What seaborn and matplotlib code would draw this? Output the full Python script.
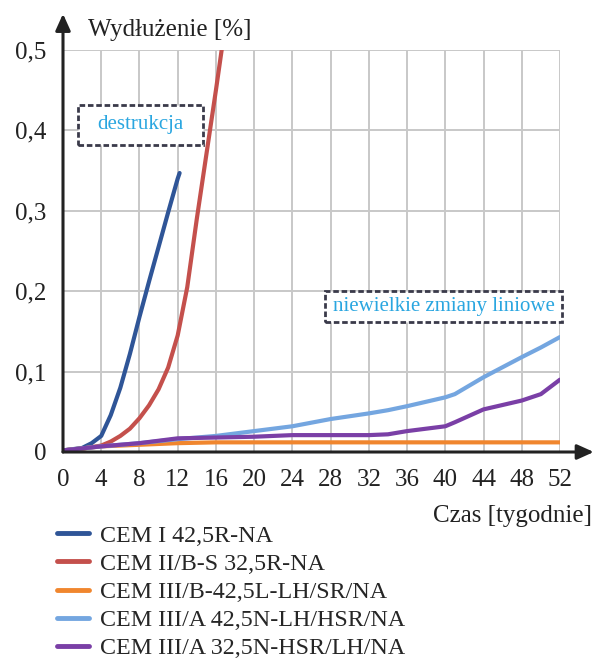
import matplotlib
matplotlib.use("Agg")
import matplotlib.pyplot as plt
import seaborn as sns
import pandas as pd
from matplotlib.lines import Line2D
from matplotlib.patches import Rectangle

# ---- data ----
labels = ["CEM I 42,5R-NA", "CEM II/B-S 32,5R-NA", "CEM III/B-42,5L-LH/SR/NA",
          "CEM III/A 42,5N-LH/HSR/NA", "CEM III/A 32,5N-HSR/LH/NA"]
colors = ["#2f5597", "#c4504c", "#f0862e", "#74a6e0", "#7a3fa6"]

weeks_cem1 = [0, 2, 3, 4, 5, 6, 7, 8, 9, 10, 11, 12, 12.2]
vals_cem1 = [0.002, 0.005, 0.011, 0.02, 0.046, 0.08, 0.122, 0.168, 0.212, 0.255, 0.298, 0.34, 0.347]

weeks_cem2 = [0, 2, 4, 5, 6, 7, 8, 9, 10, 11, 12, 13, 14, 15, 16, 16.6]
vals_cem2 = [0.002, 0.004, 0.008, 0.013, 0.02, 0.029, 0.042, 0.058, 0.078, 0.105, 0.145, 0.205, 0.29, 0.37, 0.45, 0.5]

weeks_long = [0, 4, 8, 12, 16, 20, 24, 28, 32, 34, 36, 40, 41, 44, 48, 50, 52]
vals_cem3b = [0.002, 0.007, 0.009, 0.011, 0.012, 0.012, 0.012, 0.012, 0.012, 0.012, 0.012, 0.012, 0.012, 0.012, 0.012, 0.012, 0.012]
vals_cem3a42 = [0.002, 0.007, 0.011, 0.016, 0.02, 0.026, 0.032, 0.041, 0.048, 0.052, 0.057, 0.068, 0.072, 0.093, 0.118, 0.13, 0.143]
vals_cem3a32 = [0.002, 0.007, 0.011, 0.017, 0.018, 0.019, 0.021, 0.021, 0.021, 0.022, 0.026, 0.032, 0.037, 0.053, 0.064, 0.072, 0.09]

x_ticks = list(range(0, 53, 4))
y_ticks = [0, 0.1, 0.2, 0.3, 0.4, 0.5]
y_ticklabels = ["0", "0,1", "0,2", "0,3", "0,4", "0,5"]

frames = [
    pd.DataFrame({"t": weeks_cem1, "v": vals_cem1, "s": labels[0]}),
    pd.DataFrame({"t": weeks_cem2, "v": vals_cem2, "s": labels[1]}),
    pd.DataFrame({"t": weeks_long, "v": vals_cem3b, "s": labels[2]}),
    pd.DataFrame({"t": weeks_long, "v": vals_cem3a42, "s": labels[3]}),
    pd.DataFrame({"t": weeks_long, "v": vals_cem3a32, "s": labels[4]}),
]
df = pd.concat(frames, ignore_index=True)

sns.set_style("white")
plt.rcParams["font.family"] = ["Liberation Serif", "DejaVu Serif"]

W, H = 594, 658
fig = plt.figure(figsize=(W / 100, H / 100), dpi=100)
x0, x1, y0, y1 = 63, 560, 452, 50
ax = fig.add_axes([x0 / W, 1 - y0 / H, (x1 - x0) / W, (y0 - y1) / H])

sns.lineplot(data=df, x="t", y="v", hue="s", hue_order=labels, palette=colors,
             linewidth=3.0, ax=ax, legend=False, sort=False, zorder=3)

ax.set_xlim(0, 52)
ax.set_ylim(0, 0.5)
ax.set_xticks(x_ticks)
ax.set_xticklabels([str(t) for t in x_ticks])
ax.set_yticks(y_ticks)
ax.set_yticklabels(y_ticklabels)
ax.tick_params(axis="both", length=0, labelsize=18, colors="#222222")
ax.tick_params(axis="x", pad=12)
ax.tick_params(axis="y", pad=12)
ax.grid(True, color="#c8c8c8", linewidth=1.4)
for s in ax.spines.values():
    s.set_visible(False)
ax.set_xlabel("")
ax.set_ylabel("")

# axis arrows
ax.annotate("", xy=(1.068, 0), xytext=(0, 0), xycoords="axes fraction",
            arrowprops=dict(arrowstyle="-|>,head_length=1.0,head_width=0.45",
                            color="#222222", lw=2.2, shrinkA=0, shrinkB=0),
            annotation_clip=False, zorder=5)
ax.annotate("", xy=(0, 1.09), xytext=(0, 0), xycoords="axes fraction",
            arrowprops=dict(arrowstyle="-|>,head_length=1.0,head_width=0.45",
                            color="#222222", lw=2.2, shrinkA=0, shrinkB=0),
            annotation_clip=False, zorder=5)

fig.text(88 / W, 1 - 30 / H, "Wydłużenie [%]", fontsize=18, color="#222222",
         ha="left", va="center")
fig.text(592 / W, 1 - 516 / H, "Czas [tygodnie]", fontsize=18, color="#222222",
         ha="right", va="center")


def note_box(l, t, r, b, text):
    rect = Rectangle((l / W, 1 - b / H), (r - l) / W, (b - t) / H, transform=fig.transFigure,
                     fc="white", ec="#3a3a4a", lw=2.0, ls=(0, (2, 1)), zorder=6)
    fig.add_artist(rect)
    fig.text((l + r) / 2 / W, 1 - (t + b) / 2 / H, text, fontsize=15, color="#2aa6e0",
             ha="center", va="center", zorder=7)


note_box(78, 105, 203, 145, "destrukcja")
note_box(325, 291, 562, 322, "niewielkie zmiany liniowe")

handles = [Line2D([0], [0], color=c, lw=3.5) for c in colors]
fig.legend(handles, labels, loc="upper left", bbox_to_anchor=(57 / W, 1 - 525 / H),
           frameon=False, fontsize=17.3, handlelength=1.35, handletextpad=0.45,
           labelspacing=0.26, borderpad=0, borderaxespad=0)

fig.savefig("out.png", dpi=100)
